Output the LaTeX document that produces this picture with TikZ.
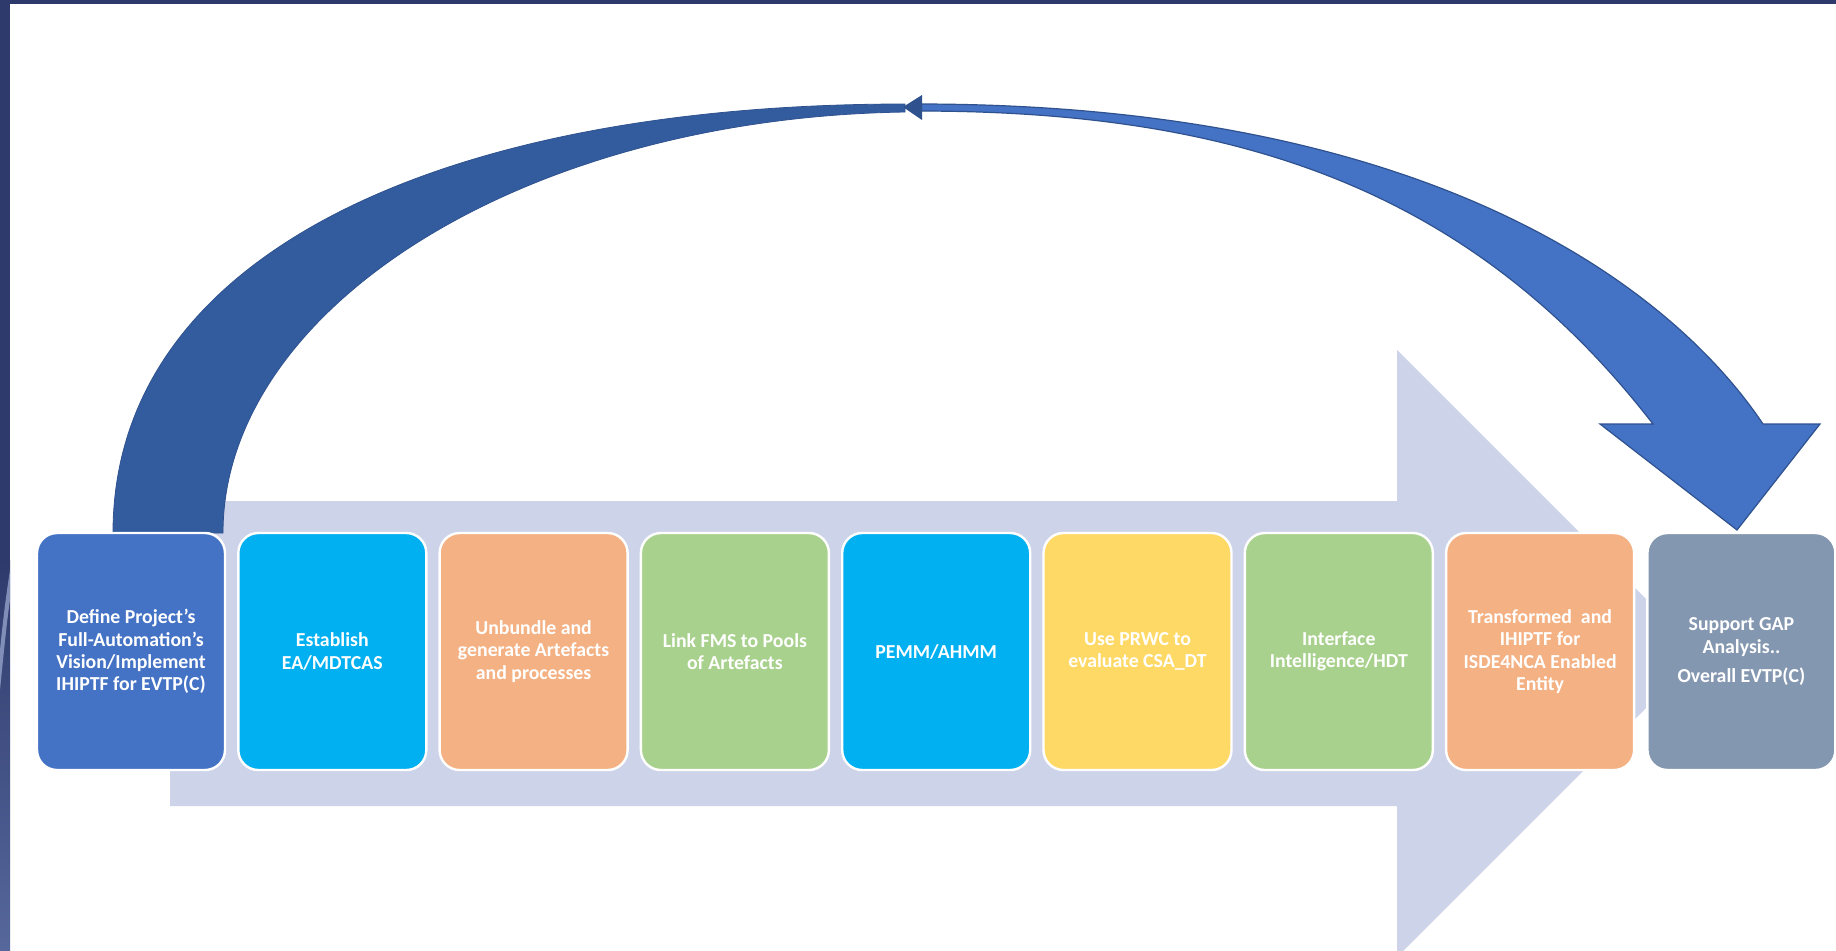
\documentclass[tikz,border=0pt]{standalone}
\usepackage{fontspec}
\setmainfont{Carlito}
\definecolor{navy}{HTML}{2E3A6B}
\definecolor{navylow}{HTML}{56679C}
\definecolor{streak}{HTML}{9AA8CF}
\definecolor{band}{HTML}{CDD4E9}
\definecolor{arcdark}{HTML}{335C9F}
\definecolor{arcblue}{HTML}{4472C4}
\definecolor{arcline}{HTML}{2F528F}
\definecolor{cblue}{HTML}{4472C4}
\definecolor{ccyan}{HTML}{00B0F0}
\definecolor{corange}{HTML}{F4B183}
\definecolor{cgreen}{HTML}{A9D18E}
\definecolor{cyellow}{HTML}{FFD966}
\definecolor{cgray}{HTML}{8497B0}
\begin{document}
\begin{tikzpicture}[x=0.5pt,y=-0.5pt,
  stepbox/.style={rounded corners=10pt, minimum width=94pt, minimum height=118.5pt,
    draw=white, line width=1.2pt, text=white, align=center, inner sep=1pt,
    font=\bfseries\fontsize{9.9}{11.1}\selectfont}]
\useasboundingbox (0,0) rectangle (1836,950);
\clip (0,0) rectangle (1836,950);
% background and frame
\fill[white] (0,0) rectangle (1836,950);
\fill[navy] (0,0) rectangle (1836,4);
\fill[navy] (0,0) rectangle (10,950);
\shade[top color=navy, bottom color=navylow] (0,560) rectangle (10,950);
\fill[streak, opacity=0.75] (0,650) .. controls (4,610) and (7,590) .. (10,570) -- (10,600) .. controls (7,620) and (4,650) .. (0,690) -- cycle;
% big light arrow
\fill[band] (170,501) -- (1397,501) -- (1397,350) -- (1700.5,653.5) -- (1397,957) -- (1397,806) -- (170,806) -- cycle;
% curved return arrow
\filldraw[fill=arcdark, draw=arcline, line width=0.4pt]
  (113,533) .. controls (113,250) and (450,104) .. (905,104)
  -- (905,112) .. controls (520,118) and (223,310) .. (223,533) -- cycle;
\filldraw[fill=arcblue, draw=arcline, line width=0.6pt]
  (918,104) .. controls (1450,104) and (1680,300) .. (1763,424)
  -- (1820,424) -- (1737,530) -- (1600,424) -- (1653,424)
  .. controls (1468,185) and (1231,111) .. (918,111) -- cycle;
\fill[arcline] (903,107) -- (922,95) -- (922,120) -- cycle;
% steps
\node[stepbox, fill=cblue]   (b1) at (131,651.5)    {Define Project's\\Full-Automation's\\Vision/Implement\\IHIPTF for EVTP(C)};
\node[stepbox, fill=ccyan]   (b2) at (332.3,651.5)  {Establish\\EA/MDTCAS};
\node[stepbox, fill=corange] (b3) at (533.6,651.5)  {Unbundle and\\generate Artefacts\\and processes};
\node[stepbox, fill=cgreen]  (b4) at (734.9,651.5)  {Link FMS to Pools\\of Artefacts};
\node[stepbox, fill=ccyan]   (b5) at (936.2,651.5)  {PEMM/AHMM};
\node[stepbox, fill=cyellow] (b6) at (1137.5,651.5) {Use PRWC to\\evaluate CSA\_DT};
\node[stepbox, fill=cgreen]  (b7) at (1338.8,651.5) {Interface\\Intelligence/HDT};
\node[stepbox, fill=corange] (b8) at (1540.1,651.5) {Transformed\ \ and\\IHIPTF for\\ISDE4NCA Enabled\\Entity};
\node[stepbox, fill=cgray]   (b9) at (1741.4,651.5) {Support GAP\\Analysis..\\[3.5pt]Overall EVTP(C)};
\end{tikzpicture}
\end{document}
